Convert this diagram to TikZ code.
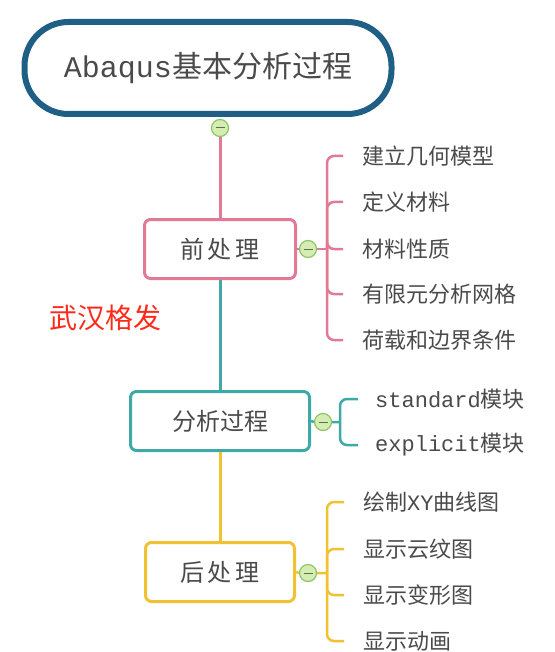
\documentclass[tikz,border=0pt]{standalone}
\usepackage{fontspec}
\setmainfont{Noto Sans CJK SC}
\setmonofont{Liberation Mono}
\usetikzlibrary{positioning}

\definecolor{rootblue}{HTML}{1F5F86}
\definecolor{prepink}{HTML}{E27A95}
\definecolor{anateal}{HTML}{3FA9A8}
\definecolor{postyel}{HTML}{F0C232}
\definecolor{togfill}{HTML}{D5EDB2}
\definecolor{togline}{HTML}{8CC46C}
\definecolor{txtgray}{HTML}{4A4A4A}
\definecolor{markred}{HTML}{FF2A1A}

\tikzset{
  stage/.style={draw,line width=3pt,rounded corners=6pt,fill=white,text=txtgray,
    font=\fontsize{24}{24}\selectfont,minimum height=59pt,inner sep=0pt},
  toggle/.style={circle,draw=togline,fill=togfill,line width=1.2pt,minimum size=17pt,inner sep=0pt,
    path picture={\draw[togline!60!black,line width=1pt]
      ([xshift=-4.5pt]path picture bounding box.center) -- ([xshift=4.5pt]path picture bounding box.center);}},
  leaf/.style={anchor=west,inner sep=0pt,text=txtgray,font=\fontsize{22}{22}\selectfont},
  branch/.style={line width=2.5pt,rounded corners=7pt},
  trunk/.style={line width=3pt},
}

\begin{document}
\begin{tikzpicture}[x=1pt,y=-1pt]
    \useasboundingbox (0,0) rectangle (554,652);

    \node[draw=rootblue,line width=6pt,rounded corners=44pt,minimum width=367pt,minimum height=92pt,
          text=txtgray,font=\fontsize{30}{30}\selectfont] (root) at (208,68) {\texttt{Abaqus}基本分析过程};
    \node[toggle] (t0) at (220,128) {};

    \node[stage,draw=prepink,minimum width=151pt] (pre) at (220,249) {前\,处\,理};
    \node[stage,draw=anateal,minimum width=179pt] (ana) at (220,421) {分析过程};
    \node[stage,draw=postyel,minimum width=149pt] (post) at (220,572) {后\,处\,理};

    \node[text=markred,font=\fontsize{28}{28}\selectfont] (mark) at (105,318) {武汉格发};

    % trunk
    \draw[trunk,prepink] (t0) -- (pre.north);
    \draw[trunk,anateal] (pre.south) -- (ana.north);
    \draw[trunk,postyel] (ana.south) -- (post.north);

    % pre-processing
    \node[toggle] (tpre) at (308,249) {};
    \coordinate (prespine) at (327,249);
    \draw[branch,prepink] (pre.east) -- (tpre.west) (tpre.east) -- (prespine);
    \foreach \txt/\yy [count=\i] in {建立几何模型/156,定义材料/202,材料性质/249,有限元分析网格/294,荷载和边界条件/340}{
        \node[leaf] (pre\i) at (362,\yy) {\txt};
        \draw[branch,prepink] (prespine) |- ([xshift=-19pt]pre\i.west);
    }

    % analysis
    \node[toggle] (tana) at (323,422) {};
    \coordinate (anaspine) at (340,422);
    \draw[branch,anateal] (ana.east) -- (tana.west) (tana.east) -- (anaspine);
    \foreach \txt/\yy [count=\i] in {\texttt{standard}模块/399,\texttt{explicit}模块/445}{
        \node[leaf] (ana\i) at (375,\yy) {\txt};
        \draw[branch,anateal] (anaspine) |- ([xshift=-17pt]ana\i.west);
    }

    % post-processing
    \node[toggle] (tpost) at (308,573) {};
    \coordinate (postspine) at (327,573);
    \draw[branch,postyel] (post.east) -- (tpost.west) (tpost.east) -- (postspine);
    \foreach \txt/\yy [count=\i] in {绘制\texttt{XY}曲线图/502,显示云纹图/549,显示变形图/595,显示动画/641}{
        \node[leaf] (post\i) at (363,\yy) {\txt};
        \draw[branch,postyel] (postspine) |- ([xshift=-19pt]post\i.west);
    }
\end{tikzpicture}
\end{document}
